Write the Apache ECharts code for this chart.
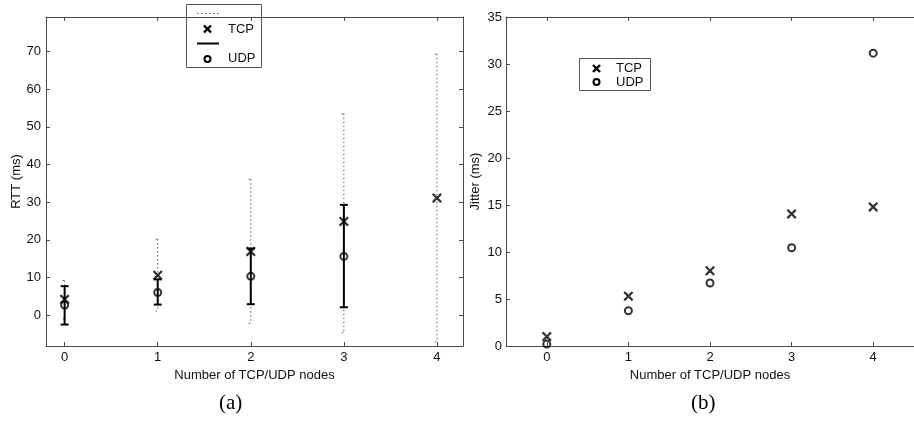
<!DOCTYPE html>
<html>
<head>
<meta charset="utf-8">
<title>RTT and jitter vs. number of TCP/UDP nodes</title>
<script src="https://cdn.jsdelivr.net/npm/echarts@6/dist/echarts.min.js"></script>
<style>
  html, body { margin: 0; padding: 0; background: #fff; }
  #chart { width: 914px; height: 421px; }
</style>
</head>
<body>
<div id="chart"></div>
<script>
// Number of competing TCP/UDP nodes
const nodes = [0, 1, 2, 3, 4];

// (a) round-trip time, ms: TCP mean and dotted range
const rttTcp = [4.2, 10.6, 16.9, 24.9, 31.1];
const rttTcpLow = [-1.0, 1.1, -2.2, -4.7, -7.1];
const rttTcpHigh = [9.2, 20.2, 36.1, 53.5, 69.4];

// (a) round-trip time, ms: UDP mean and solid range (no value for 4 nodes)
const udpNodes = [0, 1, 2, 3];
const rttUdp = [2.7, 6.0, 10.3, 15.6];
const rttUdpLow = [-2.5, 2.8, 2.9, 2.1];
const rttUdpHigh = [7.7, 9.5, 17.7, 29.3];

// (b) jitter, ms
const jitterTcp = [1.0, 5.3, 8.0, 14.05, 14.8];
const jitterUdp = [0.2, 3.75, 6.7, 10.45, 31.15];

const seriesNames = ['TCP', 'UDP'];
const xTitle = 'Number of TCP/UDP nodes';
const panelTitles = ['(a)', '(b)'];

const AXIS = '#4a4a4a';
const FONT = '"Liberation Sans", Arial, Helvetica, sans-serif';
const CROSS = 'path://M0,1.6 L1.6,0 L5,3.4 L8.4,0 L10,1.6 L6.6,5 L10,8.4 L8.4,10 L5,6.6 L1.6,10 L0,8.4 L3.4,5 Z';

const chart = echarts.init(document.getElementById('chart'), null, { renderer: 'canvas' });

function pairs(xs, ys) { return xs.map((x, i) => [x, ys[i]]); }
function ranges(xs, lo, hi) { return xs.map((x, i) => [x, lo[i], hi[i]]); }

function intLabel(v) { return Math.abs(v - Math.round(v)) < 1e-9 ? String(Math.round(v)) : ''; }

function baseAxis(extra) {
  return Object.assign({
    type: 'value',
    axisLine: { show: true, onZero: false, lineStyle: { color: AXIS, width: 1 } },
    axisTick: { show: true, inside: true, length: 4, lineStyle: { color: AXIS } },
    splitLine: { show: false },
    axisLabel: {
      show: true, color: '#111', fontSize: 13, fontFamily: FONT, margin: 5,
      showMinLabel: false, showMaxLabel: false, formatter: intLabel
    },
    nameTextStyle: { color: '#111', fontSize: 13, fontFamily: FONT }
  }, extra);
}
function mirrorAxis(extra) {
  return baseAxis(Object.assign({ axisLabel: { show: false } }, extra));
}

// Error bar drawn from [x, low, high] through the axis coordinate system
function errorBar(style, capHalf) {
  return function (params, api) {
    const x = api.value(0);
    const top = api.coord([x, api.value(2)]);
    const bot = api.coord([x, api.value(1)]);
    return {
      type: 'group',
      children: [
        { type: 'line', shape: { x1: top[0], y1: top[1], x2: bot[0], y2: bot[1] }, style: style },
        { type: 'line', shape: { x1: top[0] - capHalf, y1: top[1], x2: top[0] + capHalf, y2: top[1] }, style: style },
        { type: 'line', shape: { x1: bot[0] - capHalf, y1: bot[1], x2: bot[0] + capHalf, y2: bot[1] }, style: style }
      ]
    };
  };
}

const dotted = { stroke: '#555', lineWidth: 1, lineDash: [1.4, 2.6], fill: null };
const solid = { stroke: '#000', lineWidth: 2, fill: null };
const crossLine = { stroke: '#000', lineWidth: 2.4 };

const crossStyle = { color: '#000' };
const ringStyle = { color: 'rgba(0,0,0,0)', borderColor: '#000', borderWidth: 2 };

// legend cross glyph centred at (cx, cy)
function legendCross(cx, cy) {
  return [
    { type: 'line', shape: { x1: cx - 3.5, y1: cy - 3.5, x2: cx + 3.5, y2: cy + 3.5 }, style: crossLine },
    { type: 'line', shape: { x1: cx - 3.5, y1: cy + 3.5, x2: cx + 3.5, y2: cy - 3.5 }, style: crossLine }
  ];
}

const option = {
  animation: false,
  backgroundColor: '#fff',
  grid: [
    { left: 46, top: 17, width: 417, height: 329, containLabel: false },
    { left: 506, top: 17, width: 417, height: 329, containLabel: false }
  ],
  xAxis: [
    baseAxis({ gridIndex: 0, position: 'bottom', min: -0.2, max: 4.28, splitNumber: 4,
      name: xTitle, nameLocation: 'middle', nameGap: 15 }),
    mirrorAxis({ gridIndex: 0, position: 'top', min: -0.2, max: 4.28, splitNumber: 4 }),
    baseAxis({ gridIndex: 1, position: 'bottom', min: -0.5, max: 4.5, splitNumber: 5,
      name: xTitle, nameLocation: 'middle', nameGap: 15 }),
    mirrorAxis({ gridIndex: 1, position: 'top', min: -0.5, max: 4.5, splitNumber: 5 })
  ],
  yAxis: [
    baseAxis({ gridIndex: 0, position: 'left', min: -8.2, max: 79.2, splitNumber: 9,
      name: 'RTT (ms)', nameLocation: 'middle', nameGap: 23, nameRotate: 90 }),
    mirrorAxis({ gridIndex: 0, position: 'right', min: -8.2, max: 79.2, splitNumber: 9 }),
    baseAxis({ gridIndex: 1, position: 'left', min: 0, max: 35, interval: 5,
      axisLabel: { show: true, color: '#111', fontSize: 13, fontFamily: FONT, margin: 4, showMinLabel: true, showMaxLabel: true },
      name: 'Jitter (ms)', nameLocation: 'middle', nameGap: 24, nameRotate: 90 })
  ],
  series: [
    { type: 'custom', name: 'TCP range', xAxisIndex: 0, yAxisIndex: 0, z: 2,
      renderItem: errorBar(dotted, 2), encode: { x: 0, y: [1, 2] },
      data: ranges(nodes, rttTcpLow, rttTcpHigh) },
    { type: 'custom', name: 'UDP range', xAxisIndex: 0, yAxisIndex: 0, z: 3,
      renderItem: errorBar(solid, 4), encode: { x: 0, y: [1, 2] },
      data: ranges(udpNodes, rttUdpLow, rttUdpHigh) },
    { type: 'scatter', name: seriesNames[0], xAxisIndex: 0, yAxisIndex: 0, z: 5,
      symbol: CROSS, symbolSize: 10, itemStyle: crossStyle, data: pairs(nodes, rttTcp) },
    { type: 'scatter', name: seriesNames[1], xAxisIndex: 0, yAxisIndex: 0, z: 5,
      symbol: 'circle', symbolSize: 7, itemStyle: ringStyle, data: pairs(udpNodes, rttUdp) },
    { type: 'scatter', name: seriesNames[0], xAxisIndex: 2, yAxisIndex: 2, z: 5,
      symbol: CROSS, symbolSize: 10, itemStyle: crossStyle, data: pairs(nodes, jitterTcp) },
    { type: 'scatter', name: seriesNames[1], xAxisIndex: 2, yAxisIndex: 2, z: 5,
      symbol: 'circle', symbolSize: 7, itemStyle: ringStyle, data: pairs(nodes, jitterUdp) }
  ],
  graphic: [
    // legend of panel (a)
    { type: 'group', left: 186, top: 4, z: 100, children: [
      { type: 'rect', shape: { x: 0.5, y: 0.5, width: 75, height: 63 }, style: { fill: '#fff', stroke: '#555', lineWidth: 1 } },
      { type: 'line', shape: { x1: 11, y1: 9.5, x2: 33, y2: 9.5 }, style: dotted },
      ...legendCross(21.5, 25),
      { type: 'text', x: 42, y: 25, style: { text: seriesNames[0], fill: '#111', font: '13px ' + FONT, textVerticalAlign: 'middle' } },
      { type: 'line', shape: { x1: 11, y1: 39.5, x2: 33, y2: 39.5 }, style: solid },
      { type: 'circle', shape: { cx: 21.5, cy: 55, r: 3 }, style: { fill: null, stroke: '#000', lineWidth: 2 } },
      { type: 'text', x: 42, y: 54, style: { text: seriesNames[1], fill: '#111', font: '13px ' + FONT, textVerticalAlign: 'middle' } }
    ]},
    // legend of panel (b)
    { type: 'group', left: 579, top: 58, z: 100, children: [
      { type: 'rect', shape: { x: 0.5, y: 0.5, width: 71, height: 32 }, style: { fill: '#fff', stroke: '#555', lineWidth: 1 } },
      ...legendCross(17.5, 10.5),
      { type: 'text', x: 37, y: 10.5, style: { text: seriesNames[0], fill: '#111', font: '13px ' + FONT, textVerticalAlign: 'middle' } },
      { type: 'circle', shape: { cx: 17.5, cy: 24, r: 3 }, style: { fill: null, stroke: '#000', lineWidth: 2 } },
      { type: 'text', x: 37, y: 24, style: { text: seriesNames[1], fill: '#111', font: '13px ' + FONT, textVerticalAlign: 'middle' } }
    ]},
    // panel captions
    { type: 'text', left: 219, top: 393, style: { text: panelTitles[0], fill: '#000', font: '21px "Liberation Serif", "DejaVu Serif", serif' } },
    { type: 'text', left: 691, top: 393, style: { text: panelTitles[1], fill: '#000', font: '21px "Liberation Serif", "DejaVu Serif", serif' } }
  ]
};

chart.setOption(option);
</script>
</body>
</html>
